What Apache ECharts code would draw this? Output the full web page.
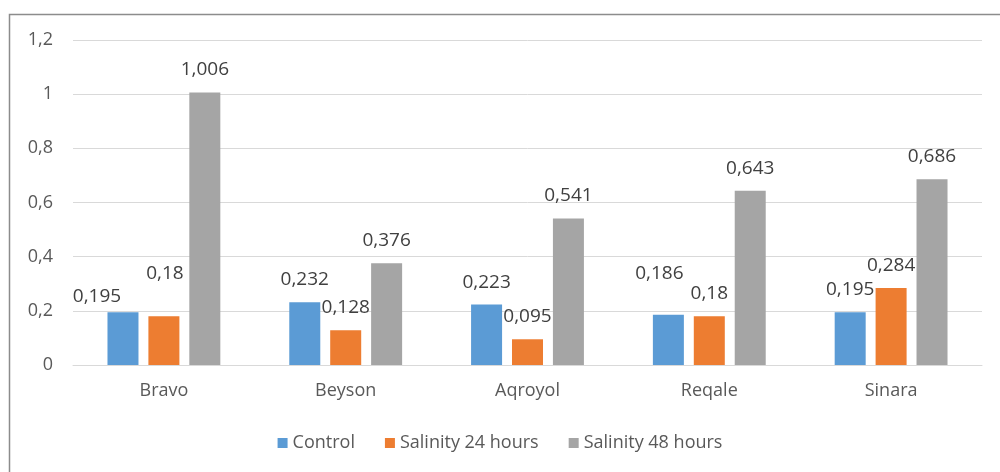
<!DOCTYPE html>
<html>
<head>
<meta charset="utf-8">
<script src="https://cdn.jsdelivr.net/npm/echarts@6/dist/echarts.min.js"></script>
<style>
  html, body { margin: 0; padding: 0; background: #ffffff; }
  #chart { width: 1000px; height: 472px; }
</style>
</head>
<body>
<div id="chart"></div>
<script>
// Cultivars and measured values per treatment
const categories = ['Bravo', 'Beyson', 'Aqroyol', 'Reqale', 'Sinara'];
const control = [0.195, 0.232, 0.223, 0.186, 0.195];
const salinity24 = [0.18, 0.128, 0.095, 0.18, 0.284];
const salinity48 = [1.006, 0.376, 0.541, 0.643, 0.686];
const seriesNames = ['Control', 'Salinity 24 hours', 'Salinity 48 hours'];
const seriesColors = ['#5B9BD5', '#ED7D31', '#A5A5A5'];

// A few labels were nudged by hand to avoid collisions: [seriesIndex][dataIndex] -> [dx, dy]
const labelNudges = {
  0: { 0: [-26, 7], 3: [-9, -19] },
  1: { 0: [1, -20] }
};

const fontFamily = '"Open Sans", "Noto Sans", sans-serif';
const textColor = '#595959';
const comma = v => String(v).replace('.', ',');

function buildData(values, si) {
  return values.map((v, i) => {
    const n = labelNudges[si] && labelNudges[si][i];
    return n ? { value: v, label: { offset: n } } : v;
  });
}

const seriesValues = [control, salinity24, salinity48];

const chart = echarts.init(document.getElementById('chart'), null, { renderer: 'canvas' });
chart.setOption({
  animation: false,
  backgroundColor: '#ffffff',
  textStyle: { fontFamily },
  graphic: [{
    type: 'rect',
    left: 7, top: 12,
    shape: { width: 1010, height: 480 },
    style: { fill: 'none', stroke: '#8c8c8c', lineWidth: 1.5 },
    silent: true
  }],
  legend: {
    data: seriesNames,
    bottom: 15,
    left: 'center',
    itemWidth: 10,
    itemHeight: 10,
    itemGap: 30,
    icon: 'rect',
    textStyle: { fontFamily, fontSize: 18, color: textColor, padding: [0, 0, 0, 0] }
  },
  grid: { left: 73, right: 18, top: 40, height: 325, containLabel: false },
  xAxis: {
    type: 'category',
    data: categories,
    axisLine: { lineStyle: { color: '#d9d9d9', width: 1 } },
    axisTick: { show: false },
    axisLabel: { color: textColor, fontSize: 18, fontFamily, margin: 17 }
  },
  yAxis: {
    type: 'value',
    min: 0, max: 1.2, interval: 0.2,
    axisLine: { show: false },
    axisTick: { show: false },
    splitLine: { lineStyle: { color: '#d9d9d9', width: 1 } },
    axisLabel: {
      color: textColor, fontSize: 18, fontFamily, margin: 20,
      formatter: v => comma(Math.round(v * 10) / 10)
    }
  },
  series: seriesValues.map((vals, si) => ({
    name: seriesNames[si],
    type: 'bar',
    data: buildData(vals, si),
    barWidth: 31,
    barGap: '32%',
    itemStyle: { color: seriesColors[si] },
    label: {
      show: true,
      position: 'top',
      distance: 13,
      color: '#404040',
      fontSize: 19,
      fontFamily,
      formatter: p => comma(p.value)
    }
  }))
});
</script>
</body>
</html>
